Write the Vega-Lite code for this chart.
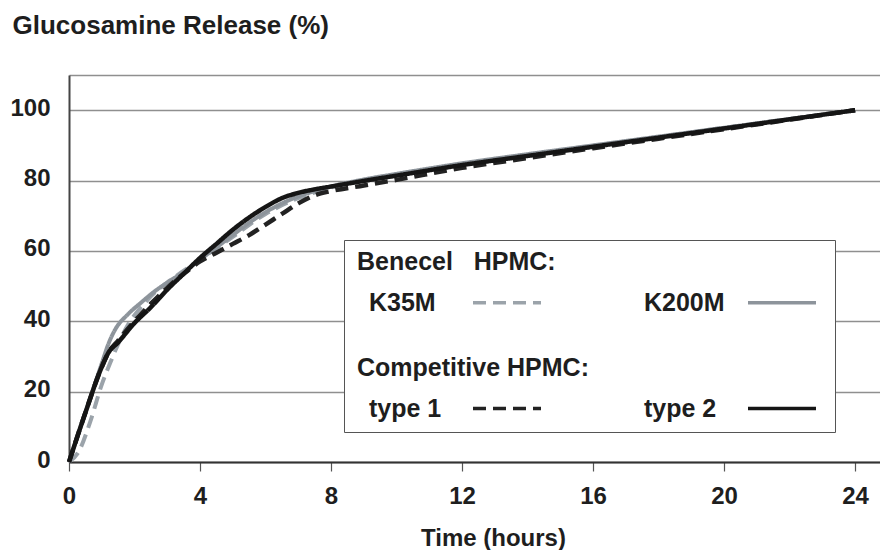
{
  "$schema": "https://vega.github.io/schema/vega-lite/v6.json",
  "width": 811,
  "height": 387,
  "autosize": "none",
  "padding": {"left": 69, "top": 75, "right": 0, "bottom": 88},
  "background": "white",
  "config": {
    "view": {"stroke": null},
    "font": "Liberation Sans"
  },
  "data": {
    "values": [
      {"series": "K35M", "t": 0, "v": 0},
      {"series": "K35M", "t": 0.3, "v": 3},
      {"series": "K35M", "t": 0.65, "v": 11.5},
      {"series": "K35M", "t": 1.0, "v": 22},
      {"series": "K35M", "t": 1.25, "v": 28},
      {"series": "K35M", "t": 1.5, "v": 33.5},
      {"series": "K35M", "t": 1.8, "v": 39},
      {"series": "K35M", "t": 2.2, "v": 44},
      {"series": "K35M", "t": 2.6, "v": 48},
      {"series": "K35M", "t": 3, "v": 51},
      {"series": "K35M", "t": 4, "v": 57.5},
      {"series": "K35M", "t": 5, "v": 64},
      {"series": "K35M", "t": 6, "v": 70.5},
      {"series": "K35M", "t": 7, "v": 75},
      {"series": "K35M", "t": 8, "v": 78},
      {"series": "K35M", "t": 9, "v": 80},
      {"series": "K35M", "t": 10, "v": 81.6},
      {"series": "K35M", "t": 12, "v": 84.6},
      {"series": "K35M", "t": 14, "v": 87.2},
      {"series": "K35M", "t": 16, "v": 89.8},
      {"series": "K35M", "t": 18, "v": 92.4},
      {"series": "K35M", "t": 20, "v": 95},
      {"series": "K35M", "t": 22, "v": 97.5},
      {"series": "K35M", "t": 24, "v": 100},

      {"series": "K200M", "t": 0, "v": 0},
      {"series": "K200M", "t": 0.5, "v": 14},
      {"series": "K200M", "t": 1.0, "v": 28},
      {"series": "K200M", "t": 1.2, "v": 33.5},
      {"series": "K200M", "t": 1.4, "v": 37.5},
      {"series": "K200M", "t": 1.8, "v": 42},
      {"series": "K200M", "t": 2.2, "v": 45.3},
      {"series": "K200M", "t": 2.6, "v": 48.4},
      {"series": "K200M", "t": 3, "v": 51},
      {"series": "K200M", "t": 3.5, "v": 54},
      {"series": "K200M", "t": 4, "v": 57.5},
      {"series": "K200M", "t": 4.5, "v": 61},
      {"series": "K200M", "t": 5, "v": 64.5},
      {"series": "K200M", "t": 5.5, "v": 68},
      {"series": "K200M", "t": 6, "v": 71},
      {"series": "K200M", "t": 6.5, "v": 73.5},
      {"series": "K200M", "t": 7, "v": 75.5},
      {"series": "K200M", "t": 7.5, "v": 77},
      {"series": "K200M", "t": 8, "v": 78.3},
      {"series": "K200M", "t": 9, "v": 80.3},
      {"series": "K200M", "t": 10, "v": 81.9},
      {"series": "K200M", "t": 12, "v": 84.9},
      {"series": "K200M", "t": 14, "v": 87.5},
      {"series": "K200M", "t": 16, "v": 90},
      {"series": "K200M", "t": 18, "v": 92.5},
      {"series": "K200M", "t": 20, "v": 95},
      {"series": "K200M", "t": 22, "v": 97.5},
      {"series": "K200M", "t": 24, "v": 100},

      {"series": "type 1", "t": 0, "v": 0},
      {"series": "type 1", "t": 0.5, "v": 14},
      {"series": "type 1", "t": 1.0, "v": 27},
      {"series": "type 1", "t": 1.2, "v": 31},
      {"series": "type 1", "t": 1.5, "v": 34.5},
      {"series": "type 1", "t": 2, "v": 40},
      {"series": "type 1", "t": 2.5, "v": 45},
      {"series": "type 1", "t": 3, "v": 49.5},
      {"series": "type 1", "t": 3.5, "v": 53.5},
      {"series": "type 1", "t": 4, "v": 57},
      {"series": "type 1", "t": 4.5, "v": 59.5},
      {"series": "type 1", "t": 5, "v": 62},
      {"series": "type 1", "t": 5.5, "v": 64.5},
      {"series": "type 1", "t": 6, "v": 67.5},
      {"series": "type 1", "t": 6.5, "v": 70.5},
      {"series": "type 1", "t": 7, "v": 73.5},
      {"series": "type 1", "t": 7.5, "v": 75.8},
      {"series": "type 1", "t": 8, "v": 77},
      {"series": "type 1", "t": 9, "v": 78.6},
      {"series": "type 1", "t": 10, "v": 80.2},
      {"series": "type 1", "t": 12, "v": 83.6},
      {"series": "type 1", "t": 14, "v": 86.4},
      {"series": "type 1", "t": 16, "v": 89.2},
      {"series": "type 1", "t": 18, "v": 91.9},
      {"series": "type 1", "t": 20, "v": 94.6},
      {"series": "type 1", "t": 22, "v": 97.3},
      {"series": "type 1", "t": 24, "v": 100},

      {"series": "type 2", "t": 0, "v": 0},
      {"series": "type 2", "t": 0.5, "v": 14},
      {"series": "type 2", "t": 1.0, "v": 27},
      {"series": "type 2", "t": 1.2, "v": 31},
      {"series": "type 2", "t": 1.5, "v": 34},
      {"series": "type 2", "t": 2, "v": 39.5},
      {"series": "type 2", "t": 2.5, "v": 44},
      {"series": "type 2", "t": 3, "v": 49},
      {"series": "type 2", "t": 3.5, "v": 53.5},
      {"series": "type 2", "t": 4, "v": 58},
      {"series": "type 2", "t": 4.5, "v": 62},
      {"series": "type 2", "t": 5, "v": 66},
      {"series": "type 2", "t": 5.5, "v": 69.5},
      {"series": "type 2", "t": 6, "v": 72.5},
      {"series": "type 2", "t": 6.5, "v": 75},
      {"series": "type 2", "t": 7, "v": 76.5},
      {"series": "type 2", "t": 7.5, "v": 77.5},
      {"series": "type 2", "t": 8, "v": 78.3},
      {"series": "type 2", "t": 9, "v": 79.9},
      {"series": "type 2", "t": 10, "v": 81.4},
      {"series": "type 2", "t": 12, "v": 84.4},
      {"series": "type 2", "t": 14, "v": 87},
      {"series": "type 2", "t": 16, "v": 89.6},
      {"series": "type 2", "t": 18, "v": 92.2},
      {"series": "type 2", "t": 20, "v": 94.8},
      {"series": "type 2", "t": 22, "v": 97.4},
      {"series": "type 2", "t": 24, "v": 100}
    ]
  },
  "mark": {"type": "line", "interpolate": "monotone", "strokeCap": "butt"},
  "encoding": {
    "x": {
      "field": "t",
      "type": "quantitative",
      "scale": {"domain": [0, 24.76], "nice": false, "zero": true},
      "axis": {
        "values": [0, 4, 8, 12, 16, 20, 24],
        "grid": false,
        "domainColor": "#333333",
        "domainWidth": 2,
        "ticks": true,
        "tickSize": 9,
        "tickColor": "#555555",
        "tickWidth": 1.2,
        "labelFont": "Liberation Sans",
        "labelFontSize": 24,
        "labelFontWeight": "bold",
        "labelColor": "#1e1e1e",
        "labelPadding": 13,
        "labelFlush": false,
        "title": "Time (hours)",
        "titleFont": "Liberation Sans",
        "titleFontSize": 24,
        "titleFontWeight": "bold",
        "titleColor": "#1e1e1e",
        "titleAnchor": "start",
        "titleAlign": "center",
        "titleBaseline": "alphabetic",
        "titleX": 424,
        "titleY": 83
      }
    },
    "y": {
      "field": "v",
      "type": "quantitative",
      "scale": {"domain": [0, 110], "nice": false},
      "axis": {
        "values": [0, 20, 40, 60, 80, 100, 110],
        "labelExpr": "datum.value == 110 ? '' : datum.label",
        "grid": true,
        "gridColor": "#8f8f8f",
        "gridWidth": 1.5,
        "domainColor": "#444444",
        "domainWidth": 2,
        "ticks": false,
        "tickSize": 0,
        "labelFont": "Liberation Sans",
        "labelFontSize": 24,
        "labelFontWeight": "bold",
        "labelColor": "#1e1e1e",
        "labelPadding": 19,
        "labelOffset": -2,
        "title": "Glucosamine Release (%)",
        "titleFont": "Liberation Sans",
        "titleFontSize": 26,
        "titleFontWeight": "bold",
        "titleColor": "#1e1e1e",
        "titleAngle": 0,
        "titleAlign": "left",
        "titleAnchor": "start",
        "titleBaseline": "alphabetic",
        "titleX": -57,
        "titleY": -42
      }
    },
    "color": {
      "field": "series",
      "type": "nominal",
      "scale": {
        "domain": ["K35M", "K200M", "Competitive HPMC:", " ", "type 1", "type 2"],
        "range": ["#9ba3aa", "#8d949b", "#000000", "#000000", "#222222", "#151515"]
      },
      "legend": {
        "title": "Benecel\u00a0\u00a0\u00a0HPMC:",
        "orient": "none",
        "direction": "horizontal",
        "legendX": 275,
        "legendY": 165,
        "columns": 2,
        "columnPadding": 40,
        "rowPadding": 15,
        "padding": 10,
        "fillColor": "white",
        "strokeColor": "#555555",
        "titleFont": "Liberation Sans",
        "titleFontSize": 25,
        "titleFontWeight": "bold",
        "titleColor": "#1e1e1e",
        "titlePadding": 15,
        "titleLimit": 500,
        "labelFont": "Liberation Sans",
        "labelFontSize": 25,
        "labelFontWeight": "bold",
        "labelColor": "#1e1e1e",
        "labelLimit": 400,
        "labelExpr": "datum.value === ' ' ? 'MMMMMMMMll' : datum.label",
        "symbolType": "stroke",
        "symbolSize": 4624,
        "symbolStrokeWidth": 3.5,
        "clipHeight": 25,
        "encode": {
          "title": {
            "update": {
              "dx": {"value": 3}
            }
          },
          "symbols": {
            "update": {
              "x": {"value": 153},
              "strokeDash": {"signal": "datum.value === 'K35M' || datum.value === 'type 1' ? [14, 13] : [1, 0]"},
              "opacity": {"signal": "datum.value === 'Competitive HPMC:' || datum.value === ' ' ? 0 : 1"}
            }
          },
          "labels": {
            "update": {
              "x": {"signal": "datum.value === 'Competitive HPMC:' ? 3 : 15"},
              "dy": {"signal": "datum.value === 'Competitive HPMC:' || datum.value === ' ' ? 24 : 0"},
              "opacity": {"signal": "datum.value === ' ' ? 0 : 1"}
            }
          }
        }
      }
    },
    "strokeDash": {
      "field": "series",
      "type": "nominal",
      "scale": {
        "domain": ["K35M", "K200M", "Competitive HPMC:", " ", "type 1", "type 2"],
        "range": [[13, 7], [1, 0], [1, 0], [1, 0], [13, 7], [1, 0]]
      }
    },
    "strokeWidth": {
      "field": "series",
      "type": "nominal",
      "scale": {
        "type": "ordinal",
        "domain": ["K35M", "K200M", "type 1", "type 2"],
        "range": [4, 4, 4.5, 4.5]
      },
      "legend": null
    }
  }
}
